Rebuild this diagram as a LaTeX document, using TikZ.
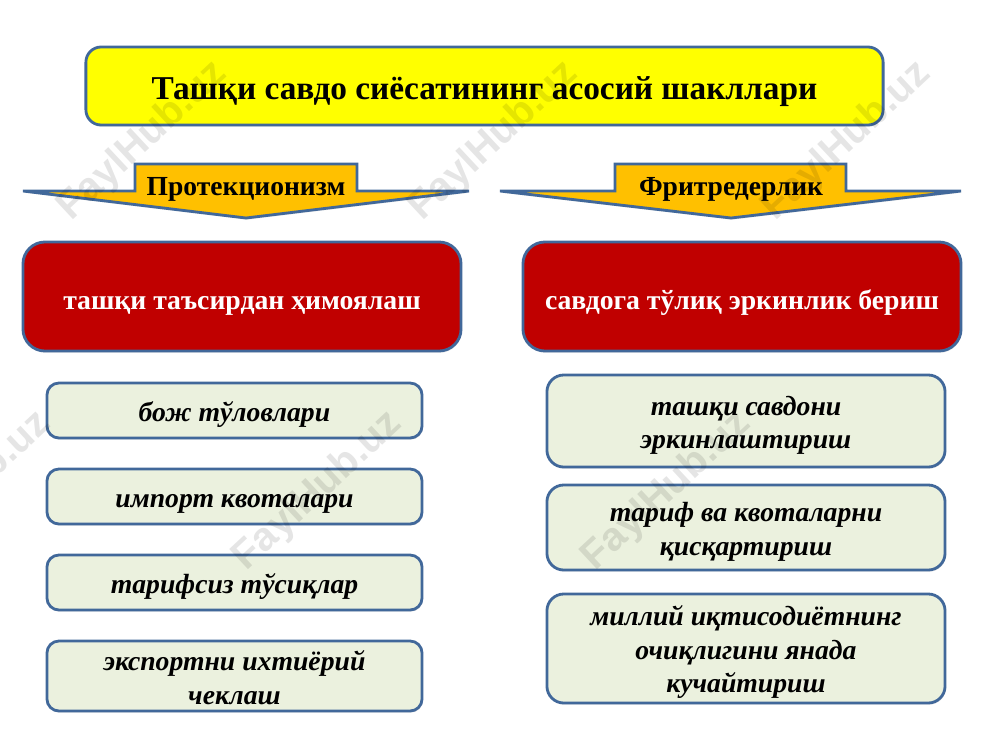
\documentclass[tikz,border=0pt]{standalone}
\usepackage{fontspec}
\setmainfont{Liberation Serif}
\setsansfont{Liberation Sans}
\usetikzlibrary{shadows}
\definecolor{edgeblue}{HTML}{41689A}
\definecolor{titleyellow}{HTML}{FFFF00}
\definecolor{arroworange}{HTML}{FFC000}
\definecolor{mainred}{HTML}{C00000}
\definecolor{itemgreen}{HTML}{EBF1DE}
\setlength{\lineskiplimit}{-10pt}
\setlength{\normallineskiplimit}{-10pt}
\newcommand{\titlestrut}{\rule[-3.5pt]{0pt}{28.3pt}}
\newcommand{\arrowstrut}{\rule[-3pt]{0pt}{19pt}}
\newcommand{\mainstrut}{\rule[-3.4pt]{0pt}{25.6pt}}
\newcommand{\itemstrut}{\rule[-3.5pt]{0pt}{23.3pt}}

\begin{document}
\begin{tikzpicture}[
    x=0.025cm,
    y=-0.025cm,
    softshadow/.style={
        drop shadow={shadow xshift=0.6pt, shadow yshift=-1.2pt, opacity=0.2},
    },
    titlebox/.style={
        rectangle,
        rounded corners=0.38cm,
        draw=edgeblue,
        line width=2pt,
        fill=titleyellow,
        softshadow,
        minimum width=19.925cm,
        minimum height=1.95cm,
        inner sep=0pt,
        font=\fontsize{23.7}{27}\selectfont\bfseries,
        execute at begin node=\titlestrut,
    },
    mainbox/.style={
        rectangle,
        rounded corners=0.55cm,
        draw=edgeblue,
        line width=2pt,
        fill=mainred,
        softshadow,
        text=white,
        minimum width=10.95cm,
        minimum height=2.725cm,
        inner sep=0pt,
        font=\fontsize{19.7}{22}\selectfont\bfseries,
        execute at begin node=\mainstrut,
    },
    itembox/.style={
        rectangle,
        rounded corners=0.3cm,
        draw=edgeblue,
        line width=2pt,
        fill=itemgreen,
        softshadow,
        align=center,
        inner sep=0pt,
        minimum width=9.375cm,
        font=\fontsize{19.7}{23.8}\selectfont\bfseries\itshape,
    },
    itemwide/.style={
        itembox,
        rounded corners=0.42cm,
        minimum width=9.95cm,
    },
    arrowshape/.style={
        draw=edgeblue,
        line width=2pt,
        fill=arroworange,
        line join=miter,
        softshadow,
    },
    arrowlabel/.style={
        inner sep=0pt,
        font=\fontsize{19.6}{22}\selectfont\bfseries,
        execute at begin node=\arrowstrut,
    },
    stamp/.style={
        rotate=43,
        text=black,
        text opacity=0.1,
        font=\sffamily\bfseries\fontsize{28.5}{32}\selectfont,
    },
]
\useasboundingbox (0,0) rectangle (1000,750);

\node[titlebox] (title) at (484.5,86) {Ташқи савдо сиёсатининг асосий шакллари};

\draw[arrowshape] (23,191) -- (135,191) -- (135,164) -- (357,164) -- (357,191)
    -- (469,191) -- (246,218) -- cycle;
\node[arrowlabel] (prot) at (246,187) {Протекционизм};

\draw[arrowshape] (500,191) -- (615,191) -- (615,164) -- (846,164) -- (846,191)
    -- (961,191) -- (731,218) -- cycle;
\node[arrowlabel] (free) at (731,187) {Фритредерлик};

\node[mainbox] (protmain) at (242,296.5) {ташқи таъсирдан ҳимоялаш};
\node[mainbox] (freemain) at (742,296.5) {савдога тўлиқ эркинлик бериш};

\node[itembox, minimum height=1.375cm] (p1) at (234.5,410.5) {\itemstrut бож тўловлари};
\node[itembox, minimum height=1.375cm] (p2) at (234.5,496.5) {\itemstrut импорт квоталари};
\node[itembox, minimum height=1.375cm] (p3) at (234.5,582.5) {\itemstrut тарифсиз тўсиқлар};
\node[itembox, minimum height=1.75cm] (p4) at (234.5,676) {\itemstrut экспортни ихтиёрий\\\itemstrut чеклаш};

\node[itemwide, minimum height=2.3cm] (f1) at (746,421) {\itemstrut ташқи савдони\\\itemstrut эркинлаштириш};
\node[itemwide, minimum height=2.125cm] (f2) at (746,527.5) {\itemstrut тариф ва квоталарни\\\itemstrut қисқартириш};
\node[itemwide, minimum height=2.725cm] (f3) at (746,648.5) {\itemstrut миллий иқтисодиётнинг\\очиқлигини янада\\\itemstrut кучайтириш};

% watermark
\node[stamp] (w1) at (143,141) {FaylHub.uz};
\node[stamp] (w2) at (494,141) {FaylHub.uz};
\node[stamp] (w3) at (847,141) {FaylHub.uz};
\node[stamp] (w4) at (-33,491) {FaylHub.uz};
\node[stamp] (w5) at (318,491) {FaylHub.uz};
\node[stamp] (w6) at (667,491) {FaylHub.uz};

\end{tikzpicture}
\end{document}
